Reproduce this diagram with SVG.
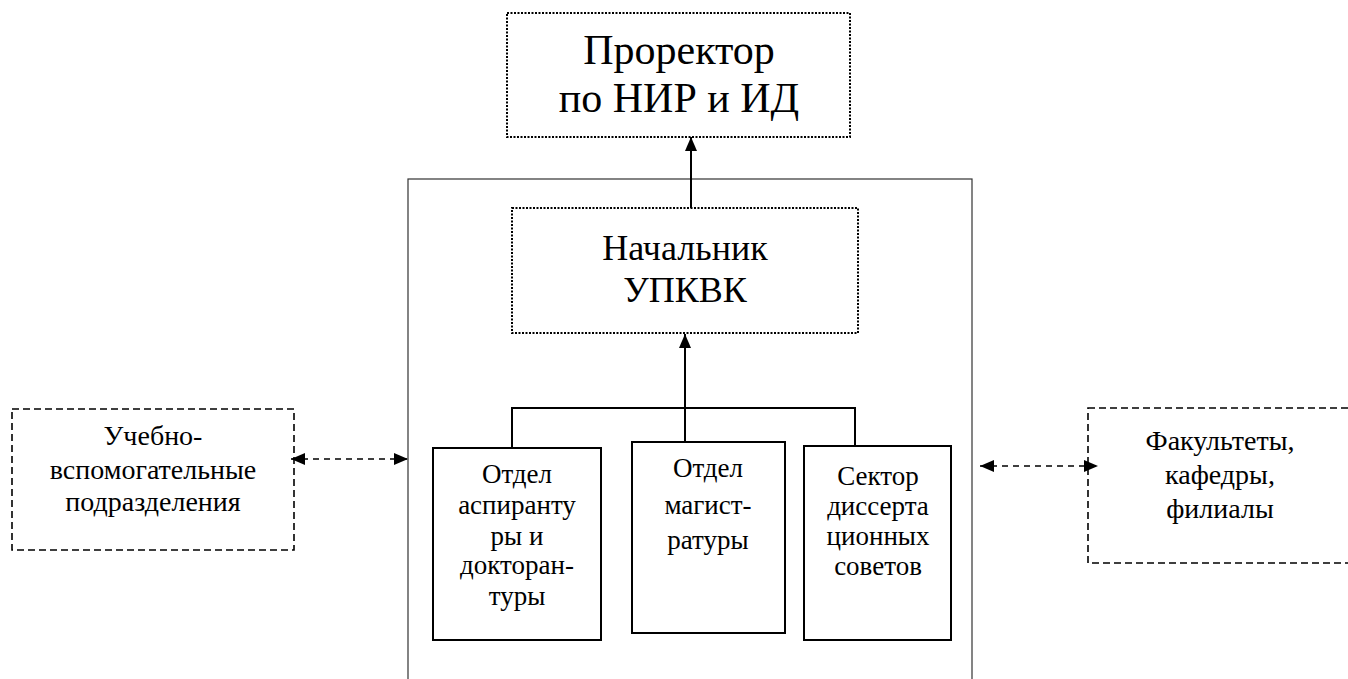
<svg xmlns="http://www.w3.org/2000/svg" width="1348" height="679" viewBox="0 0 1348 679">
<defs>
<marker id="ah" viewBox="0 0 14 12" refX="14" refY="6" markerWidth="14" markerHeight="12" markerUnits="userSpaceOnUse" orient="auto-start-reverse">
<path d="M0,0 L14,6 L0,12 Z" fill="#000"/>
</marker>
</defs>
<style>
text{font-family:Liberation Serif, Times New Roman, serif;fill:#000;text-anchor:middle}
.dot{fill:#fff;stroke:#000;stroke-width:2;stroke-dasharray:2 1.5}
.dash{fill:#fff;stroke:#000;stroke-width:1.6;stroke-dasharray:7 4}
.solid{fill:#fff;stroke:#000;stroke-width:2}
.outer{fill:none;stroke:#333;stroke-width:1.2}
.line{fill:none;stroke:#000;stroke-width:2}
.dline{fill:none;stroke:#000;stroke-width:1.6;stroke-dasharray:6 5}
.t42{font-size:42px}.t36{font-size:36px}.t28{font-size:28px}.t27{font-size:27px}
</style>
<rect class="outer" x="408" y="179" width="564" height="520"/>
<g id="prorector">
<rect class="dot" x="507" y="13" width="343" height="124"/>
<text class="t42" x="679" y="64" font-family="Liberation Serif">Проректор</text>
<text class="t42" x="679" y="112" font-family="Liberation Serif">по НИР и ИД</text>
</g>
<g id="nachalnik">
<rect class="dot" x="512" y="208" width="346" height="125"/>
<text class="t36" x="685" y="260">Начальник</text>
<text class="t36" x="685" y="302">УПКВК</text>
</g>
<g id="otdel-asp">
<rect class="solid" x="433" y="448" width="168" height="192"/>
<text class="t27" x="517" y="483">Отдел</text>
<text class="t27" x="517" y="514">аспиранту</text>
<text class="t27" x="517" y="545">ры и</text>
<text class="t27" x="517" y="574">докторан-</text>
<text class="t27" x="517" y="605">туры</text>
</g>
<g id="otdel-mag">
<rect class="solid" x="632" y="442" width="153" height="191"/>
<text class="t27" x="708" y="477">Отдел</text>
<text class="t27" x="708" y="514">магист-</text>
<text class="t27" x="708" y="549">ратуры</text>
</g>
<g id="sektor">
<rect class="solid" x="804" y="446" width="147" height="194"/>
<text class="t27" x="878" y="485">Сектор</text>
<text class="t27" x="878" y="515">диссерта</text>
<text class="t27" x="878" y="545">ционных</text>
<text class="t27" x="878" y="575">советов</text>
</g>
<g id="uchebno">
<rect class="dash" x="12" y="409" width="282" height="141"/>
<text class="t28" x="153" y="445">Учебно-</text>
<text class="t28" x="153" y="479">вспомогательные</text>
<text class="t28" x="153" y="511">подразделения</text>
</g>
<g id="fakultety">
<rect class="dash" x="1088" y="408" width="280" height="155"/>
<text class="t28" x="1220" y="450">Факультеты,</text>
<text class="t28" x="1220" y="484">кафедры,</text>
<text class="t28" x="1220" y="518">филиалы</text>
</g>
<g id="connectors">
<line class="line" x1="691" y1="208" x2="691" y2="137" marker-end="url(#ah)"/>
<line class="line" x1="685" y1="442" x2="685" y2="334" marker-end="url(#ah)"/>
<polyline class="line" points="512,448 512,408 855,408 855,446"/>
<line class="dline" x1="291" y1="459" x2="408" y2="459" marker-start="url(#ah)" marker-end="url(#ah)"/>
<line class="dline" x1="980" y1="466" x2="1098" y2="466" marker-start="url(#ah)" marker-end="url(#ah)"/>
</g>
</svg>
